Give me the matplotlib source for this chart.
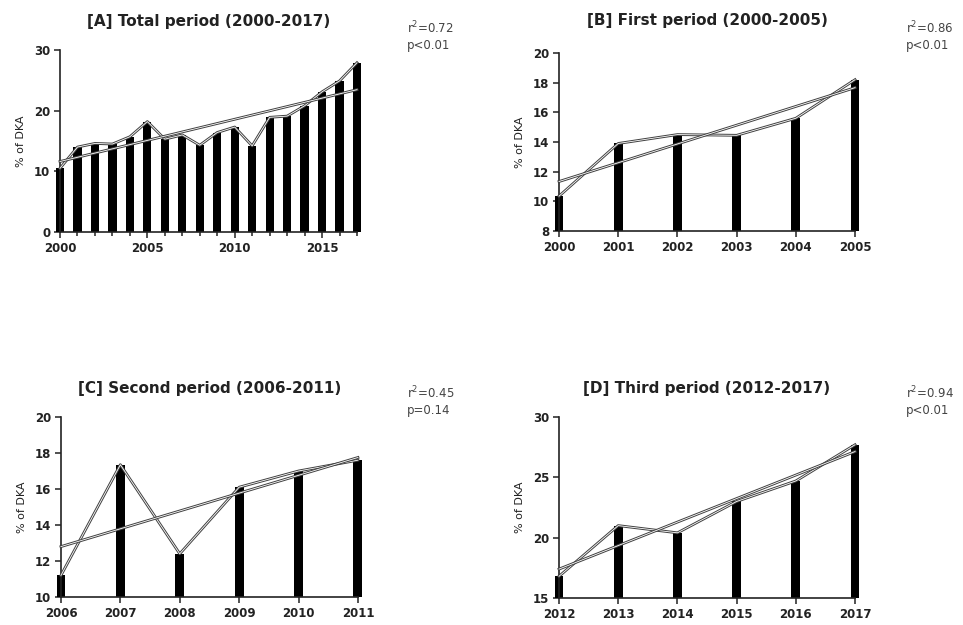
import numpy as np
import matplotlib
matplotlib.use("Agg")
import matplotlib.pyplot as plt
import matplotlib.patheffects as pe
from matplotlib.ticker import MultipleLocator

# % of DKA per year
years_total = list(range(2000, 2018))
dka_total = [10.5, 14.0, 14.6, 14.5, 15.7, 18.2, 15.3, 16.0, 14.3,
             16.4, 17.3, 14.2, 18.9, 19.1, 20.8, 23.1, 24.9, 27.9]

years_first = list(range(2000, 2006))
dka_first = [10.35, 13.9, 14.5, 14.45, 15.6, 18.2]

years_second = list(range(2006, 2012))
dka_second = [11.2, 17.35, 12.4, 16.1, 17.0, 17.6]

years_third = list(range(2012, 2018))
dka_third = [16.8, 21.0, 20.4, 23.0, 24.7, 27.7]

titles = ["[A] Total period (2000-2017)", "[B] First period (2000-2005)",
          "[C] Second period (2006-2011)", "[D] Third period (2012-2017)"]
stats = ["r$^2$=0.72\np<0.01", "r$^2$=0.86\np<0.01",
         "r$^2$=0.45\np=0.14", "r$^2$=0.94\np<0.01"]

plt.rcParams["font.family"] = ["DejaVu Sans"]

fig = plt.figure(figsize=(9.63, 6.25), dpi=100)

line_fx = [pe.withStroke(linewidth=2.0, foreground="#404040")]


def panel(rect, years, vals, title, stat, ylim, ystep, bar_w, stat_xy,
          xmajor=1, title_pad=17):
    ax = fig.add_axes(rect)
    x = np.array(years, dtype=float)
    y = np.array(vals)
    ax.bar(x, y - ylim[0], bottom=ylim[0], width=bar_w,
           color="black", clip_on=False, zorder=2)
    ax.plot(x, y, color="white", lw=0.6, path_effects=line_fx,
            clip_on=False, zorder=3)
    # least squares trend line
    k, b = np.polyfit(x, y, 1)
    ax.plot(x, k * x + b, color="white", lw=0.6, path_effects=line_fx,
            clip_on=False, zorder=3)

    ax.set_xlim(years[0], years[-1])
    ax.set_ylim(*ylim)
    ax.yaxis.set_major_locator(MultipleLocator(ystep))
    ax.xaxis.set_major_locator(MultipleLocator(xmajor))
    if xmajor > 1:
        ax.xaxis.set_minor_locator(MultipleLocator(1))
    ax.tick_params(which="both", direction="out", length=4, width=1.1,
                   labelsize=8.5, color="#222", pad=3)
    ax.tick_params(which="minor", length=3)
    for lab in ax.get_xticklabels() + ax.get_yticklabels():
        lab.set_fontweight("bold")
        lab.set_color("#222")
    for side in ["top", "right"]:
        ax.spines[side].set_visible(False)
    for side in ["left", "bottom"]:
        ax.spines[side].set_linewidth(1.2)
        ax.spines[side].set_color("#222")
    ax.set_ylabel("% of DKA", fontsize=8, color="#222", labelpad=6)
    ax.set_title(title, fontsize=11, fontweight="bold", color="#222",
                 pad=title_pad)
    fig.text(stat_xy[0], stat_xy[1], stat, fontsize=8.5, color="#444",
             va="top", linespacing=1.25)
    return ax


panel([0.0623, 0.6288, 0.3084, 0.2912], years_total, dka_total, titles[0],
      stats[0], (0, 30), 10, 0.47, (0.423, 0.968), xmajor=5)
panel([0.5805, 0.6304, 0.3074, 0.2848], years_first, dka_first, titles[1],
      stats[1], (8, 20), 2, 0.15, (0.941, 0.968), title_pad=20)
panel([0.0633, 0.0448, 0.3084, 0.2880], years_second, dka_second, titles[2],
      stats[2], (10, 20), 2, 0.15, (0.423, 0.384))
panel([0.5805, 0.0432, 0.3074, 0.2896], years_third, dka_third, titles[3],
      stats[3], (15, 30), 5, 0.15, (0.941, 0.384))

fig.savefig("out.png", dpi=100)
